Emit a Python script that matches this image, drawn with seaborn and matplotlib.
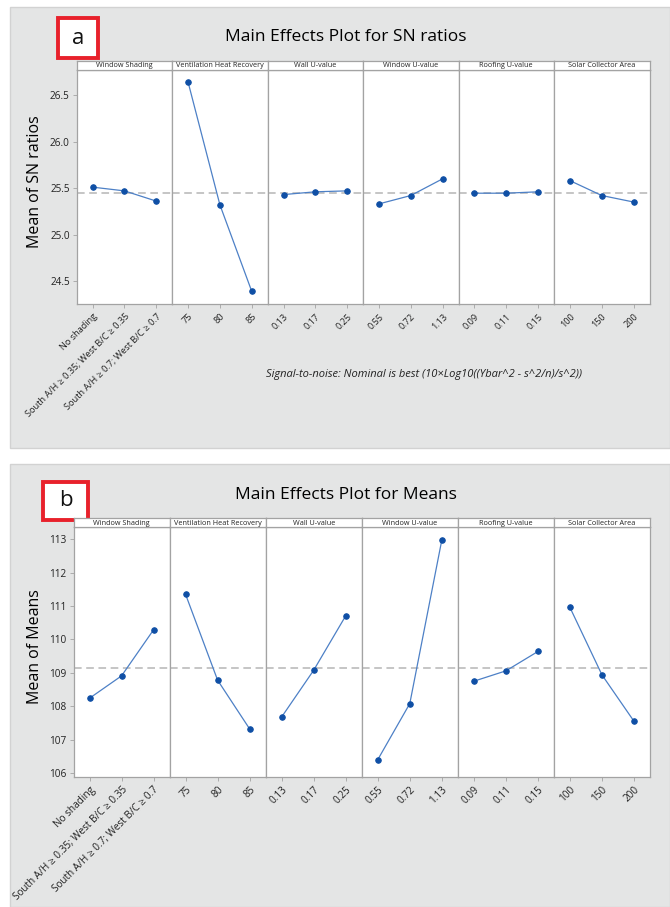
import matplotlib
matplotlib.use('Agg')
import matplotlib.pyplot as plt
import seaborn as sns
from matplotlib.patches import Rectangle

sns.set_style('white')
plt.rcParams['font.family'] = ['Open Sans', 'DejaVu Sans']

# data
factors = ['Window Shading', 'Ventilation Heat Recovery', 'Wall U-value',
           'Window U-value', 'Roofing U-value', 'Solar Collector Area']
shading_levels = ['No shading', 'South A/H ≥ 0.35; West B/C ≥ 0.35',
                  'South A/H ≥ 0.7; West B/C ≥ 0.7']
hrv_levels = ['75', '80', '85']
wall_levels = ['0.13', '0.17', '0.25']
window_levels = ['0.55', '0.72', '1.13']
roof_levels = ['0.09', '0.11', '0.15']
solar_levels = ['100', '150', '200']
levels = [shading_levels, hrv_levels, wall_levels, window_levels, roof_levels, solar_levels]

sn_shading = [25.51, 25.47, 25.36]
sn_hrv = [26.64, 25.32, 24.39]
sn_wall = [25.43, 25.46, 25.47]
sn_window = [25.33, 25.42, 25.60]
sn_roof = [25.445, 25.445, 25.46]
sn_solar = [25.58, 25.42, 25.35]
sn_vals = [sn_shading, sn_hrv, sn_wall, sn_window, sn_roof, sn_solar]
sn_grand = 25.446

mn_shading = [108.24, 108.91, 110.29]
mn_hrv = [111.35, 108.78, 107.32]
mn_wall = [107.68, 109.08, 110.71]
mn_window = [106.40, 108.08, 112.98]
mn_roof = [108.75, 109.06, 109.64]
mn_solar = [110.96, 108.94, 107.55]
mn_vals = [mn_shading, mn_hrv, mn_wall, mn_window, mn_roof, mn_solar]
mn_grand = 109.15

W, H = 670, 907
fig = plt.figure(figsize=(W / 100, H / 100), dpi=100)
fig.patch.set_facecolor('white')

def frac(x0, y0, x1, y1):
    return [x0 / W, 1 - y1 / H, (x1 - x0) / W, (y1 - y0) / H]

GRAY = '#a3a3a3'
MK = '#0f4fa5'
LN = '#4d80c6'


def panel(py0, py1, title, ty, letter, lbox, vals, grand, ylim, yticks, fmt,
          ylabel, ylab_y, left, right, strip_top, plot_top, plot_bot, xfs):
    fig.patches.append(Rectangle((10 / W, 1 - py1 / H), (W - 10) / W, (py1 - py0) / H,
                                 transform=fig.transFigure, facecolor='#e4e5e5',
                                 edgecolor='#d2d2d2', lw=1, zorder=-5))
    fig.text(346 / W, 1 - ty / H, title, ha='center', va='center', fontsize=12.5,
             color='#000000', weight='medium')
    bx0, by0, bx1, by1 = lbox
    fig.patches.append(Rectangle((bx0 / W, 1 - by1 / H), (bx1 - bx0) / W, (by1 - by0) / H,
                                 transform=fig.transFigure, facecolor='white',
                                 edgecolor='#e8212b', lw=2.8, zorder=-4))
    fig.text((bx0 + bx1) / 2 / W, 1 - (by0 + by1) / 2 / H, letter, ha='center', va='center',
             fontsize=16, color='#111111')
    fig.text(35 / W, 1 - ylab_y / H, ylabel, rotation=90, ha='center', va='center',
             fontsize=11.5, color='#000000', weight='medium')
    w = (right - left) / 6
    for i, f in enumerate(factors):
        x0 = left + i * w
        ax = fig.add_axes(frac(x0, plot_top, x0 + w, plot_bot))
        ax.set_facecolor('white')
        ax.axhline(grand, color='#b5b5b5', ls=(0, (5, 3)), lw=1.1, zorder=1)
        sns.pointplot(x=levels[i], y=vals[i], order=levels[i], ax=ax, color=MK,
                      errorbar=None, markersize=4, linewidth=0.9)
        for ln in ax.lines[1:]:
            ln.set_color(LN)
            ln.set_markerfacecolor(MK)
            ln.set_markeredgecolor(MK)
            ln.set_zorder(3)
        ax.set_xlim(-0.5, 2.5)
        ax.set_ylim(*ylim)
        ax.set_xlabel('')
        ax.set_ylabel('')
        ax.set_xticks(range(3))
        ax.set_xticklabels(levels[i], rotation=45, ha='right', rotation_mode='anchor',
                           fontsize=xfs, color='#222222')
        ax.tick_params(axis='x', length=3, width=0.6, color=GRAY, pad=2.5, bottom=True)
        if i == 0:
            ax.set_yticks(yticks)
            ax.set_yticklabels([fmt.format(t) for t in yticks], fontsize=7.2, color='#222222')
            ax.tick_params(axis='y', length=3, width=0.6, color=GRAY, pad=2, left=True)
        else:
            ax.set_yticks(yticks)
            ax.tick_params(axis='y', left=False, labelleft=False)
        for s in ax.spines.values():
            s.set_color(GRAY)
            s.set_linewidth(0.9)
        sax = fig.add_axes(frac(x0, strip_top, x0 + w, plot_top))
        sax.set_facecolor('white')
        sax.set_xticks([])
        sax.set_yticks([])
        for s in sax.spines.values():
            s.set_color(GRAY)
            s.set_linewidth(0.9)
        sax.text(0.5, 0.45, f, ha='center', va='center', fontsize=5.2, color='#222222',
                 transform=sax.transAxes)


panel(7, 448, 'Main Effects Plot for SN ratios', 37, 'a', (58, 18, 98, 58),
      sn_vals, sn_grand, (24.25, 26.77), [24.5, 25.0, 25.5, 26.0, 26.5], '{:.1f}',
      'Mean of SN ratios', 182, 76.7, 649.5, 61, 70, 304.3, 6.6)
fig.text(424 / W, 1 - 375 / H,
         'Signal-to-noise: Nominal is best (10×Log10((Ybar^2 - s^2/n)/s^2))',
         ha='center', va='center', fontsize=8, style='italic', color='#222222')

panel(464, 907, 'Main Effects Plot for Means', 495, 'b', (43, 482, 88, 520),
      mn_vals, mn_grand, (105.89, 113.36), [106, 107, 108, 109, 110, 111, 112, 113], '{:d}',
      'Mean of Means', 647, 73.5, 650, 518, 527.3, 776.7, 7.2)

fig.savefig('out.png', dpi=100)
